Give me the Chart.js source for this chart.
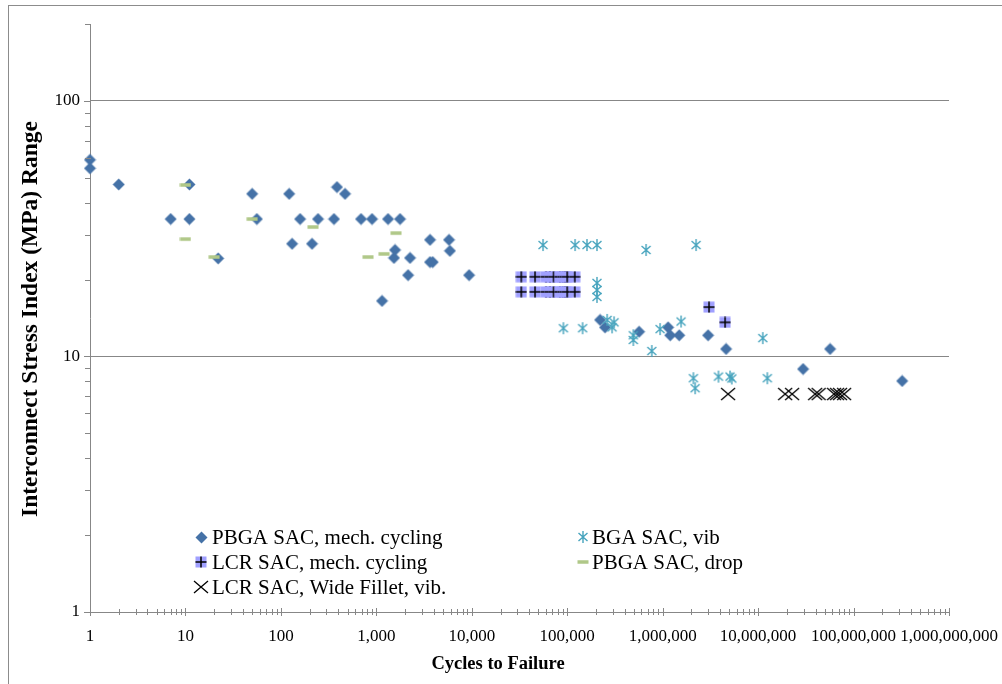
<!DOCTYPE html>
<html>
<head>
<meta charset="utf-8">
<script src="https://cdn.jsdelivr.net/npm/chart.js@4.4.1/dist/chart.umd.min.js"></script>
<style>
  html, body { margin: 0; padding: 0; background: #ffffff; }
  canvas { display: block; }
</style>
</head>
<body>
<canvas id="chart" width="1002" height="684"></canvas>
<script>
// ---- Series: cycles to failure vs. interconnect stress index range (MPa) ----
const seriesLabels = [
  'PBGA SAC, mech. cycling',
  'BGA SAC, vib',
  'LCR SAC, mech. cycling',
  'PBGA SAC, drop',
  'LCR SAC, Wide Fillet, vib.'
];

const pbgaMechCycles = [1, 1, 2, 7, 11, 11, 22, 50, 56, 122, 131, 159, 212, 245, 360, 387, 470, 691, 902, 1148,
  1327, 1530, 1571, 1771, 2150, 2256, 3655, 3655, 3900, 5780, 5900, 9370, 220900, 249000, 566000, 1140000,
  1200000, 1490000, 2990000, 4620000, 29600000, 56800000, 323000000];
const pbgaMechStress = [58.8, 54.5, 47.1, 34.5, 34.5, 47.1, 24.2, 43.3, 34.5, 43.3, 27.6, 34.5, 27.6, 34.5, 34.5, 46, 43.3, 34.5, 34.5, 16.5,
  34.5, 24.3, 26.1, 34.5, 20.8, 24.3, 28.6, 23.4, 23.4, 28.6, 25.9, 20.8, 13.9, 13.0, 12.5, 13.0,
  12.1, 12.1, 12.1, 10.7, 8.93, 10.7, 8.02];

const bgaVibCycles = [55800, 121000, 161000, 205000, 670000, 2240000, 205000, 205000, 205000, 91200, 145000, 262000, 295000,
  310000, 493000, 493000, 769000, 940000, 1560000, 2100000, 2190000, 3840000, 5080000, 5300000, 11200000, 12500000];
const bgaVibStress = [27.3, 27.3, 27.3, 27.3, 26.1, 27.3, 19.4, 18.2, 17.1, 12.9, 12.9, 13.9, 13.0,
  13.6, 12.1, 11.6, 10.5, 12.8, 13.7, 8.22, 7.51, 8.34, 8.34, 8.2, 11.8, 8.22];

const lcrMechCycles = [33000, 46000, 60000, 66000, 72000, 84000, 90000, 95000, 100000, 120000,
  33000, 46000, 60000, 66000, 72000, 84000, 90000, 95000, 100000, 120000, 3060000, 4510000];
const lcrMechStress = [20.5, 20.5, 20.5, 20.5, 20.5, 20.5, 20.5, 20.5, 20.5, 20.5,
  17.9, 17.9, 17.9, 17.9, 17.9, 17.9, 17.9, 17.9, 17.9, 17.9, 15.6, 13.6];

const pbgaDropCycles = [10, 10, 20, 50, 217, 819, 1205, 1609];
const pbgaDropStress = [46.9, 28.8, 24.5, 34.5, 32.1, 24.5, 25.2, 30.4];

const lcrWideCycles = [4850000, 19200000, 22700000, 39600000, 43100000, 62500000, 67200000, 72200000, 79600000];
const lcrWideStress = [7.13, 7.13, 7.13, 7.13, 7.13, 7.13, 7.13, 7.13, 7.13];

// ---- Axis tick labels ----
const xTickValues = [1, 10, 100, 1000, 10000, 100000, 1000000, 10000000, 100000000, 1000000000];
const xTickLabels = ['1', '10', '100', '1,000', '10,000', '100,000', '1,000,000', '10,000,000', '100,000,000', '1,000,000,000'];
const yTickValues = [1, 10, 100];
const yTickLabels = ['1', '10', '100'];

const xTitle = 'Cycles to Failure';
const yTitle = 'Interconnect Stress Index (MPa) Range';

// ---- Marker images ----
function makeMarker(w, h, paint) {
  const c = document.createElement('canvas');
  c.width = w; c.height = h;
  const g = c.getContext('2d');
  paint(g);
  return c;
}
const diamondMarker = makeMarker(13, 13, g => {
  g.fillStyle = '#4572a7';
  g.beginPath();
  g.moveTo(6.5, 0.5); g.lineTo(12.5, 6.5); g.lineTo(6.5, 12.5); g.lineTo(0.5, 6.5);
  g.closePath(); g.fill();
});
const asteriskMarker = makeMarker(12, 14, g => {
  g.strokeStyle = '#45a3bd';
  g.lineWidth = 1.4;
  g.beginPath();
  g.moveTo(6, 1); g.lineTo(6, 13);
  g.moveTo(1.5, 3); g.lineTo(10.5, 11);
  g.moveTo(10.5, 3); g.lineTo(1.5, 11);
  g.stroke();
});
const plusSquareMarker = makeMarker(12, 12, g => {
  g.fillStyle = '#a0a0ff';
  g.fillRect(0.5, 0.5, 11, 11);
  g.strokeStyle = '#000000';
  g.lineWidth = 1.5;
  g.beginPath();
  g.moveTo(6, 0.5); g.lineTo(6, 11.5);
  g.moveTo(0.5, 6); g.lineTo(11.5, 6);
  g.stroke();
});
const dashMarker = makeMarker(12, 6, g => {
  g.fillStyle = '#b0c888';
  g.fillRect(0.5, 1.25, 11, 3.5);
});
const xMarker = makeMarker(16, 14, g => {
  g.strokeStyle = '#000000';
  g.lineWidth = 1.3;
  g.beginPath();
  g.moveTo(1, 1); g.lineTo(15, 13);
  g.moveTo(15, 1); g.lineTo(1, 13);
  g.stroke();
});

function toPoints(xs, ys) {
  return xs.map((x, i) => ({ x: x, y: ys[i] }));
}

const AXIS_GREY = '#878787';
const SERIF = '"Liberation Serif", "Times New Roman", serif';

function isDecade(v) {
  const l = Math.log10(v);
  return Math.abs(l - Math.round(l)) < 1e-9;
}

// Log ticks at 1..9 × 10^n, plus the axis maximum
function logTicks(min, max) {
  const out = [];
  for (let d = min; d < max; d *= 10) {
    for (let m = 1; m <= 9; m++) {
      const v = m * d;
      if (v <= max) out.push({ value: v, major: m === 1 });
    }
  }
  if (out[out.length - 1].value !== max) out.push({ value: max, major: isDecade(max) });
  return out;
}

// Frame, tick marks, axis titles and the in-plot legend
const decorPlugin = {
  id: 'decor',
  beforeDraw(chart) {
    const ctx = chart.ctx;
    ctx.save();
    ctx.fillStyle = '#ffffff';
    ctx.fillRect(0, 0, chart.width, chart.height);
    ctx.strokeStyle = '#8c8c8c';
    ctx.lineWidth = 1;
    ctx.strokeRect(8.5, 5.5, chart.width + 20, chart.height + 20);
    ctx.restore();
  },
  afterDraw(chart) {
    const ctx = chart.ctx;
    const xs = chart.scales.x, ys = chart.scales.y;
    const area = chart.chartArea;
    ctx.save();
    ctx.strokeStyle = AXIS_GREY;
    ctx.lineWidth = 1;
    ctx.beginPath();
    xs.ticks.forEach(t => {
      const px = Math.round(xs.getPixelForValue(t.value)) + 0.5;
      const len = isDecade(t.value) ? 4 : 3;
      ctx.moveTo(px, area.bottom - len);
      ctx.lineTo(px, area.bottom + len);
    });
    ys.ticks.forEach(t => {
      const py = Math.round(ys.getPixelForValue(t.value)) + 0.5;
      const len = isDecade(t.value) ? 6 : 5;
      ctx.moveTo(area.left - len, py);
      ctx.lineTo(area.left + 1, py);
    });
    ctx.stroke();

    // axis titles
    ctx.fillStyle = '#000000';
    ctx.textAlign = 'center';
    ctx.textBaseline = 'middle';
    ctx.font = 'bold 18.5px ' + SERIF;
    ctx.fillText(xTitle, 498, 664);
    ctx.save();
    ctx.translate(31, 319);
    ctx.rotate(-Math.PI / 2);
    ctx.font = 'bold 23.5px ' + SERIF;
    ctx.fillText(yTitle, 0, 0);
    ctx.restore();

    // legend: two columns inside the plot area
    const slots = [
      { ds: 0, mx: 201, tx: 212, y: 537 },
      { ds: 1, mx: 583, tx: 592, y: 537 },
      { ds: 2, mx: 201, tx: 212, y: 562 },
      { ds: 3, mx: 583, tx: 592, y: 562 },
      { ds: 4, mx: 201, tx: 212, y: 587 }
    ];
    ctx.font = '21px ' + SERIF;
    ctx.textAlign = 'left';
    ctx.textBaseline = 'middle';
    slots.forEach(s => {
      const ds = chart.data.datasets[s.ds];
      const img = ds.pointStyle;
      ctx.drawImage(img, Math.round(s.mx - img.width / 2), Math.round(s.y - img.height / 2));
      ctx.fillText(ds.label, s.tx, s.y + 1);
    });
    ctx.restore();
  }
};

const datasets = [
  { label: seriesLabels[0], data: toPoints(pbgaMechCycles, pbgaMechStress), pointStyle: diamondMarker, order: 5 },
  { label: seriesLabels[1], data: toPoints(bgaVibCycles, bgaVibStress), pointStyle: asteriskMarker, order: 4 },
  { label: seriesLabels[2], data: toPoints(lcrMechCycles, lcrMechStress), pointStyle: plusSquareMarker, order: 3 },
  { label: seriesLabels[3], data: toPoints(pbgaDropCycles, pbgaDropStress), pointStyle: dashMarker, order: 2 },
  { label: seriesLabels[4], data: toPoints(lcrWideCycles, lcrWideStress), pointStyle: xMarker, order: 1 }
].map(d => Object.assign(d, { pointRadius: 6, pointHoverRadius: 6, clip: false, showLine: false }));

new Chart(document.getElementById('chart'), {
  type: 'scatter',
  data: { datasets: datasets },
  plugins: [decorPlugin],
  options: {
    responsive: false,
    animation: false,
    devicePixelRatio: 1,
    layout: { padding: { top: 24, right: 53, left: 0, bottom: 0 } },
    plugins: { legend: { display: false }, tooltip: { enabled: false } },
    scales: {
      x: {
        type: 'logarithmic',
        position: 'bottom',
        min: 1,
        max: 1e9,
        afterBuildTicks: s => { s.ticks = logTicks(1, 1e9); },
        afterFit: s => { s.height = 72; s.paddingLeft = 0; s.paddingRight = 0; },
        grid: { display: false, drawTicks: false },
        border: { display: true, color: AXIS_GREY, width: 1 },
        ticks: {
          autoSkip: false,
          maxRotation: 0,
          minRotation: 0,
          padding: 14,
          color: '#000000',
          font: { family: SERIF, size: 17 },
          callback: v => {
            const i = xTickValues.indexOf(v);
            return i >= 0 ? xTickLabels[i] : '';
          }
        }
      },
      y: {
        type: 'logarithmic',
        position: 'left',
        min: 1,
        max: 200,
        afterBuildTicks: s => { s.ticks = logTicks(1, 200); },
        afterFit: s => { s.width = 90; s.paddingTop = 0; s.paddingBottom = 0; },
        grid: {
          drawTicks: false,
          lineWidth: 1,
          color: c => (c.tick && (c.tick.value === 10 || c.tick.value === 100)) ? AXIS_GREY : 'rgba(0,0,0,0)'
        },
        border: { display: true, color: AXIS_GREY, width: 1 },
        ticks: {
          autoSkip: false,
          padding: 10,
          color: '#000000',
          font: { family: SERIF, size: 17 },
          callback: v => {
            const i = yTickValues.indexOf(v);
            return i >= 0 ? yTickLabels[i] : '';
          }
        }
      }
    }
  }
});
</script>
</body>
</html>
